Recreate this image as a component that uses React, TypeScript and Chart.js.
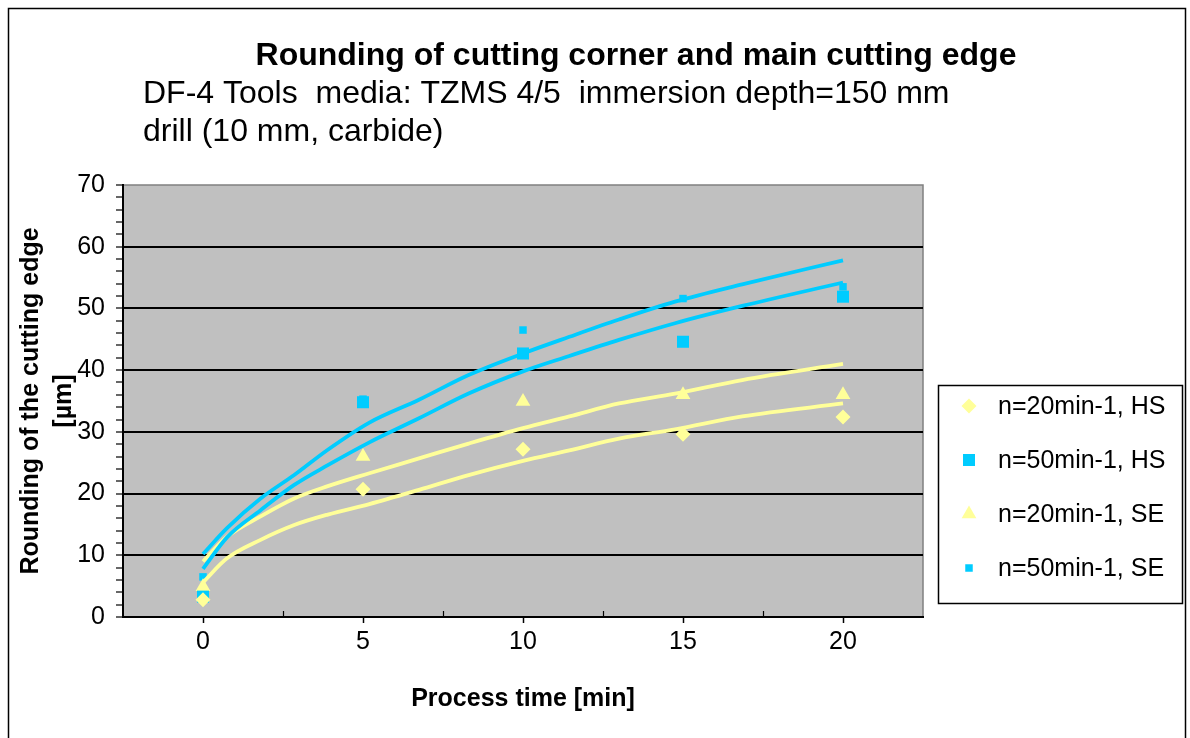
import React, { useEffect, useRef } from 'react';
import { Chart, registerables } from 'chart.js';

Chart.register(...registerables);

// ---- data ----
const timeMin = [0, 5, 10, 15, 20];
const hs20 = [2.8, 20.7, 27.2, 29.6, 32.4];
const hs50 = [3.3, 34.8, 42.7, 44.6, 51.9];
const se20 = [4.9, 26.0, 34.9, 36.0, 36.0];
const se50 = [6.5, 35.3, 46.5, 51.6, 53.5];

const seriesLabels = ['n=20min-1, HS', 'n=50min-1, HS', 'n=20min-1, SE', 'n=50min-1, SE'];

// trend curves
const trendX = [0, 0.75, 1.8, 2.85, 3.9, 5.2, 6.75, 8.3, 10, 11.45, 13, 14.75, 16.85, 20];
const trendSE50 = [10.2, 14.4, 19.2, 23.0, 27.1, 31.5, 35.2, 39.2, 42.7, 45.4, 48.2, 51.1, 53.9, 57.8];
const trendHS50 = [7.8, 12.9, 17.3, 21.4, 24.6, 28.3, 32.2, 36.2, 39.8, 42.3, 44.9, 47.6, 50.4, 54.2];
const trendSE20 = [9.0, 13.0, 16.3, 19.2, 21.2, 23.3, 25.7, 28.1, 30.6, 32.5, 34.6, 36.2, 38.4, 41.0];
const trendHS20 = [5.6, 9.5, 12.5, 14.9, 16.6, 18.3, 20.6, 23.0, 25.3, 27.0, 28.9, 30.4, 32.5, 34.6];

const xTickLabels = ['0', '5', '10', '15', '20'];
const yTickLabels = ['0', '10', '20', '30', '40', '50', '60', '70'];

const titleText = 'Rounding of cutting corner and main cutting edge';
const subtitleLines = ['DF-4 Tools  media: TZMS 4/5  immersion depth=150 mm', 'drill (10 mm, carbide)'];
const xTitle = 'Process time [min]';
const yTitleLines = ['Rounding of the cutting edge', '[µm]'];

const YELLOW = '#FFFF99';
const CYAN = '#00CCFF';
const FONT = '"Liberation Sans", Arial, sans-serif';

const markerSpecs = [
  { style: 'rectRot', radius: 7.5, color: YELLOW },
  { style: 'rect', radius: 8.5, color: CYAN },
  { style: 'triangle', radius: 8.5, color: YELLOW },
  { style: 'rect', radius: 5.3, color: CYAN },
];

function drawMarker(ctx: CanvasRenderingContext2D, style: string, r: number, x: number, y: number, color: string) {
  ctx.save();
  ctx.fillStyle = color;
  ctx.beginPath();
  if (style === 'rect') {
    const s = Math.SQRT1_2 * r;
    ctx.rect(x - s, y - s, 2 * s, 2 * s);
  } else if (style === 'rectRot') {
    ctx.moveTo(x, y - r);
    ctx.lineTo(x + r, y);
    ctx.lineTo(x, y + r);
    ctx.lineTo(x - r, y);
    ctx.closePath();
  } else {
    const a = (2 * Math.PI) / 3;
    ctx.moveTo(x, y - r);
    ctx.lineTo(x + Math.sin(a) * r, y - Math.cos(a) * r);
    ctx.lineTo(x + Math.sin(2 * a) * r, y - Math.cos(2 * a) * r);
    ctx.closePath();
  }
  ctx.fill();
  ctx.restore();
}

const decorPlugin = {
  id: 'decor',
  beforeDraw(chart: any) {
    const { ctx, chartArea: a } = chart;
    ctx.save();
    ctx.fillStyle = '#FFFFFF';
    ctx.fillRect(0, 0, chart.width, chart.height);
    ctx.fillStyle = '#C0C0C0';
    ctx.fillRect(a.left, a.top, a.right - a.left, a.bottom - a.top);
    ctx.strokeStyle = '#808080';
    ctx.lineWidth = 1.5;
    ctx.strokeRect(a.left, a.top, a.right - a.left, a.bottom - a.top);
    ctx.restore();
  },
  afterDraw(chart: any) {
    const { ctx, chartArea: a } = chart;
    ctx.save();
    // outer border
    ctx.strokeStyle = '#000';
    ctx.lineWidth = 1.5;
    ctx.strokeRect(8.5, 8.5, 1177, 760);

    // small inner ticks on the x axis between labelled ticks
    const xs = chart.scales.x;
    ctx.beginPath();
    xs.ticks.forEach((t: any) => {
      const s = String(t.value);
      if (xTickLabels.includes(s) || t.value <= xs.min || t.value >= xs.max) return;
      const px = Math.round(xs.getPixelForValue(t.value)) + 0.5;
      ctx.moveTo(px, a.bottom);
      ctx.lineTo(px, a.bottom - 6);
    });
    ctx.lineWidth = 1.2;
    ctx.stroke();

    // titles
    ctx.fillStyle = '#000';
    ctx.textBaseline = 'alphabetic';
    ctx.textAlign = 'center';
    ctx.font = `bold 32px ${FONT}`;
    ctx.fillText(titleText, 636, 65);
    ctx.textAlign = 'left';
    ctx.font = `32px ${FONT}`;
    ctx.fillText(subtitleLines[0], 143, 103);
    ctx.fillText(subtitleLines[1], 143, 141);

    // x axis title
    ctx.textAlign = 'center';
    ctx.font = `bold 25px ${FONT}`;
    ctx.fillText(xTitle, (a.left + a.right) / 2, 706);

    // y axis title
    const cy = (a.top + a.bottom) / 2;
    ctx.save();
    ctx.translate(31, cy);
    ctx.rotate(-Math.PI / 2);
    ctx.textBaseline = 'middle';
    ctx.fillText(yTitleLines[0], 0, 0);
    ctx.restore();
    ctx.save();
    ctx.translate(64, cy);
    ctx.rotate(-Math.PI / 2);
    ctx.textBaseline = 'middle';
    ctx.fillText(yTitleLines[1], 0, 0);
    ctx.restore();

    // legend
    ctx.fillStyle = '#FFFFFF';
    ctx.fillRect(938, 385, 244, 218);
    ctx.strokeStyle = '#000';
    ctx.lineWidth = 1.5;
    ctx.strokeRect(938.5, 385.5, 244, 218);
    const rows = [406, 460, 514, 568];
    ctx.font = `25px ${FONT}`;
    ctx.textAlign = 'left';
    ctx.textBaseline = 'middle';
    seriesLabels.forEach((lab, i) => {
      const m = markerSpecs[i];
      drawMarker(ctx, m.style, m.radius, 969, rows[i], m.color);
      ctx.fillStyle = '#000';
      ctx.fillText(lab, 998, rows[i] + 1);
    });
    ctx.restore();
  },
};

export default function App() {
  const ref = useRef<HTMLCanvasElement | null>(null);

  useEffect(() => {
    if (!ref.current) return;
    const pts = (ys: number[]) => timeMin.map((x, i) => ({ x, y: ys[i] }));
    const trend = (ys: number[]) => trendX.map((x, i) => ({ x, y: ys[i] }));
    const pointSeries = [hs20, hs50, se20, se50];

    const trendDs = [
      { data: trend(trendSE50), color: CYAN },
      { data: trend(trendHS50), color: CYAN },
      { data: trend(trendSE20), color: YELLOW },
      { data: trend(trendHS20), color: YELLOW },
    ].map((t) => ({
      label: 'trend',
      data: t.data,
      showLine: true,
      borderColor: t.color,
      backgroundColor: t.color,
      borderWidth: 3.8,
      pointRadius: 0,
      cubicInterpolationMode: 'monotone' as const,
      fill: false,
    }));

    const pointDs = pointSeries.map((ys, i) => ({
      label: seriesLabels[i],
      data: pts(ys),
      showLine: false,
      pointStyle: markerSpecs[i].style,
      pointRadius: markerSpecs[i].radius,
      pointBackgroundColor: markerSpecs[i].color,
      pointBorderColor: markerSpecs[i].color,
      pointBorderWidth: 0,
      backgroundColor: markerSpecs[i].color,
      borderColor: markerSpecs[i].color,
    }));

    const chart = new Chart(ref.current, {
      type: 'scatter',
      data: { datasets: [...trendDs, ...pointDs] as any },
      options: {
        animation: false,
        responsive: false,
        maintainAspectRatio: false,
        layout: { padding: { top: 185, right: 267, left: 0, bottom: 0 } },
        plugins: {
          legend: { display: false },
          tooltip: { enabled: false },
          title: { display: false },
        },
        scales: {
          x: {
            type: 'linear',
            min: -2.5,
            max: 22.5,
            afterFit(s: any) {
              s.height = 121;
            },
            ticks: {
              stepSize: 2.5,
              autoSkip: false,
              maxRotation: 0,
              color: '#000',
              padding: 4,
              font: { family: FONT, size: 25 },
              callback: (v: any) => {
                const s = String(v);
                return xTickLabels.includes(s) ? s : '';
              },
            },
            grid: {
              drawOnChartArea: false,
              tickLength: 6,
              tickWidth: 1.5,
              tickColor: (c: any) =>
                c.tick && xTickLabels.includes(String(c.tick.value)) ? '#000' : 'rgba(0,0,0,0)',
            },
            border: { color: '#000', width: 2 },
          },
          y: {
            type: 'linear',
            min: 0,
            max: 70,
            afterFit(s: any) {
              s.width = 123;
            },
            ticks: {
              stepSize: 2,
              autoSkip: false,
              color: '#000',
              padding: 11,
              font: { family: FONT, size: 25 },
              callback: (v: any) => {
                const s = String(v);
                return yTickLabels.includes(s) ? s : '';
              },
            },
            grid: {
              color: (c: any) => {
                const v = c.tick ? c.tick.value : -1;
                return v % 10 === 0 && v > 0 && v < 70 ? '#000' : 'rgba(0,0,0,0)';
              },
              lineWidth: 2,
              tickLength: 7,
              tickWidth: 1.2,
              tickColor: '#000',
            },
            border: { color: '#000', width: 2 },
          },
        },
      },
      plugins: [decorPlugin],
    });
    return () => chart.destroy();
  }, []);

  return (
    <div style={{ position: 'absolute', left: 0, top: 0, width: 1190, height: 738 }}>
      <canvas ref={ref} width={1190} height={738} style={{ display: 'block', width: 1190, height: 738 }} />
    </div>
  );
}
